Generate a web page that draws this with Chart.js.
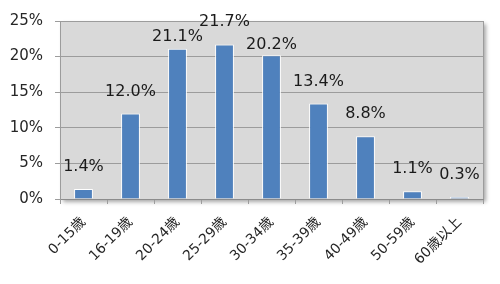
<!DOCTYPE html>
<html>
<head>
<meta charset="utf-8">
<script src="https://cdn.jsdelivr.net/npm/chart.js@4/dist/chart.umd.min.js"></script>
<style>
  html, body { margin: 0; padding: 0; background: #fff; }
  #wrap { width: 500px; height: 284px; }
</style>
</head>
<body>
<div id="wrap"><canvas id="chart" width="500" height="284"></canvas></div>
<script>
var ageGroups = ['0-15歳', '16-19歳', '20-24歳', '25-29歳', '30-34歳', '35-39歳', '40-49歳', '50-59歳', '60歳以上'];
var sharePercent = [1.4, 12.0, 21.1, 21.7, 20.2, 13.4, 8.8, 1.1, 0.3];
var yTicks = [0, 5, 10, 15, 20, 25];

var fontFamily = '"DejaVu Sans", "Noto Sans CJK JP", sans-serif';

// gray plot area with a soft shadow, like the spreadsheet original
var plotBackground = {
    id: 'plotBackground',
    beforeDraw: function(chart) {
        var a = chart.chartArea;
        var ctx = chart.ctx;
        ctx.save();
        ctx.shadowColor = 'rgba(0,0,0,0.35)';
        ctx.shadowBlur = 4;
        ctx.shadowOffsetX = 3;
        ctx.shadowOffsetY = 3;
        ctx.fillStyle = '#d9d9d9';
        ctx.fillRect(a.left, a.top, a.right - a.left, a.bottom - a.top);
        ctx.restore();
        ctx.save();
        ctx.strokeStyle = '#9c9c9c';
        ctx.lineWidth = 1;
        ctx.beginPath();
        ctx.moveTo(a.right + 0.5, a.top);
        ctx.lineTo(a.right + 0.5, a.bottom);
        ctx.stroke();
        ctx.restore();
    }
};

// value labels above the bars
var valueLabels = {
    id: 'valueLabels',
    afterDatasetsDraw: function(chart) {
        var ctx = chart.ctx;
        var meta = chart.getDatasetMeta(0);
        var gaps = { 2: 8, 4: 6 };
        ctx.save();
        ctx.font = '16px ' + fontFamily;
        ctx.fillStyle = '#1a1a1a';
        ctx.textAlign = 'center';
        ctx.textBaseline = 'alphabetic';
        meta.data.forEach(function(bar, i) {
            var gap = gaps[i] !== undefined ? gaps[i] : 18;
            ctx.fillText(sharePercent[i].toFixed(1) + '%', bar.x, bar.y - gap);
        });
        ctx.restore();
    }
};

var ctx = document.getElementById('chart').getContext('2d');

var barChart = new Chart(ctx, {
    type: 'bar',
    data: {
        labels: ageGroups,
        datasets: [{
            data: sharePercent,
            backgroundColor: '#4f81bd',
            borderColor: '#ffffff',
            borderWidth: 1,
            barPercentage: 0.4,
            categoryPercentage: 1
        }]
    },
    options: {
        responsive: false,
        animation: false,
        layout: { padding: { left: 0, right: 17, top: 19, bottom: 0 } },
        plugins: {
            legend: { display: false },
            tooltip: { enabled: false }
        },
        scales: {
            x: {
                afterFit: function(scale) { scale.height = 85; },
                grid: {
                    drawOnChartArea: false,
                    tickLength: 5,
                    color: '#9c9c9c'
                },
                border: { color: '#8c8c8c' },
                ticks: {
                    minRotation: 45,
                    maxRotation: 45,
                    padding: 10,
                    color: '#262626',
                    font: { family: fontFamily, size: 14 }
                }
            },
            y: {
                min: 0,
                max: 25,
                afterFit: function(scale) { scale.width = 60; },
                afterBuildTicks: function(scale) {
                    scale.ticks = yTicks.map(function(v) { return { value: v }; });
                },
                grid: {
                    color: '#9c9c9c',
                    tickLength: 5
                },
                border: { color: '#9c9c9c' },
                ticks: {
                    padding: 12,
                    color: '#262626',
                    font: { family: fontFamily, size: 15 },
                    callback: function(v) { return v + '%'; }
                }
            }
        }
    },
    plugins: [plotBackground, valueLabels]
});
</script>
</body>
</html>
